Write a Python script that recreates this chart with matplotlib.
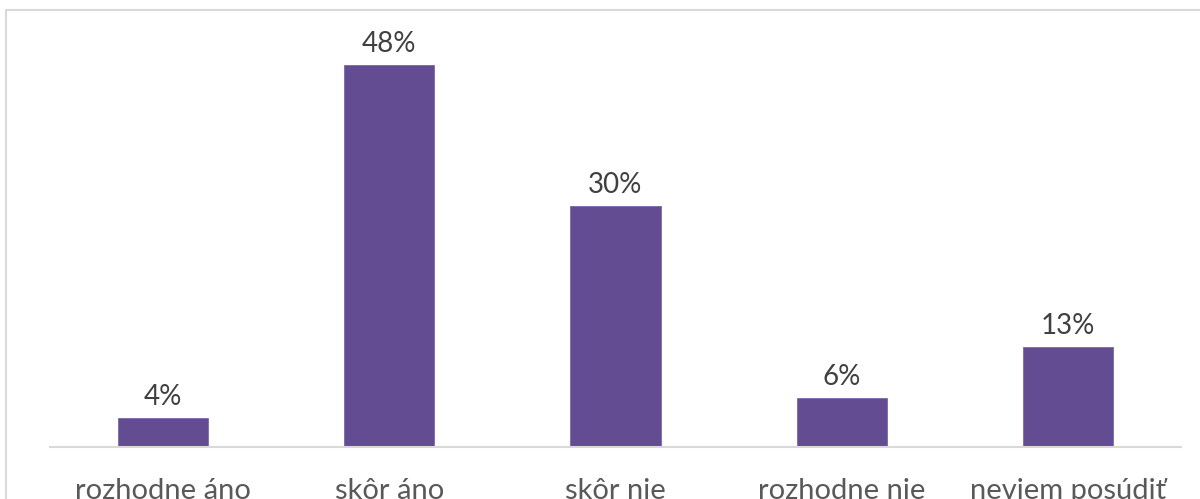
import matplotlib
matplotlib.use("Agg")
import matplotlib.pyplot as plt
from matplotlib.patches import Rectangle

categories = ["rozhodne áno", "skôr áno", "skôr nie", "rozhodne nie", "neviem posúdiť"]
values = [3.6, 48.0, 30.3, 6.2, 12.6]
labels = ["4%", "48%", "30%", "6%", "13%"]

plt.rcParams['font.family'] = ['Lato', 'DejaVu Sans']

fig = plt.figure(figsize=(12, 4.99), dpi=100)
W, H = 1200, 499
# outer border (extends beyond the image on right/bottom)
fig.patches.append(Rectangle((6 / W, -0.1), 1.2, 1 - 10 / H + 0.1, transform=fig.transFigure,
                             fill=False, edgecolor="#D9D9D9", linewidth=1.5))

ax = fig.add_axes([50 / W, 1 - 447 / H, (1181 - 50) / W, (447 - 49) / H])
x = range(len(categories))
ax.bar(x, values, width=0.398, color="#634C91", edgecolor="#7B68A8", linewidth=0.6, zorder=2)
for xi, v, lab in zip(x, values, labels):
    ax.text(xi, v + 1.0, lab, ha="center", va="bottom", fontsize=20, color="#404040")

ax.set_xlim(-0.5, len(categories) - 0.5)
ax.set_ylim(0, 50)
ax.set_yticks([])
ax.set_xticks(list(x))
ax.set_xticklabels(categories, fontsize=21, color="#595959")
ax.tick_params(axis="x", length=0, pad=22.5)
for s in ["top", "right", "left"]:
    ax.spines[s].set_visible(False)
ax.spines["bottom"].set_color("#D9D9D9")
ax.spines["bottom"].set_linewidth(1.5)

fig.savefig("out.png", dpi=100)
